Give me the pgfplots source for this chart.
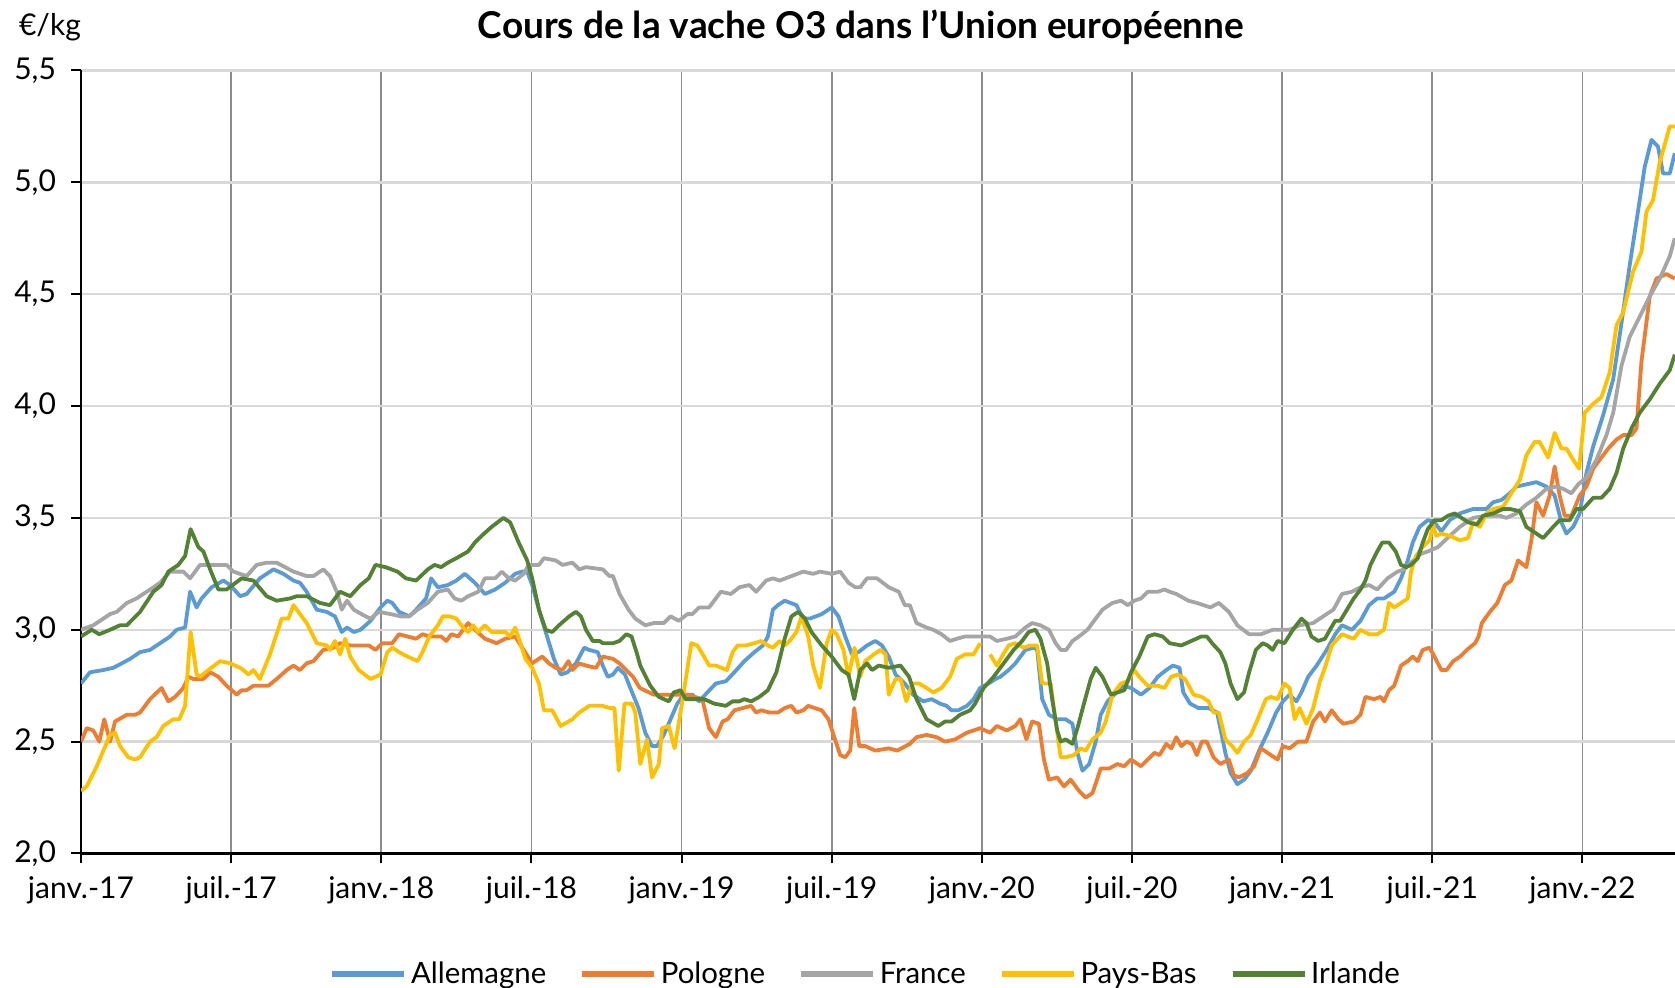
\documentclass[border=0pt]{standalone}
\usepackage{pgfplots}
\pgfplotsset{compat=1.18}
\usepackage{fontspec}
\setmainfont{Lato}
\definecolor{cAll}{HTML}{5B9BD5}
\definecolor{cPol}{HTML}{ED7D31}
\definecolor{cFra}{HTML}{A5A5A5}
\definecolor{cPB}{HTML}{FFC000}
\definecolor{cIrl}{HTML}{548235}
\definecolor{hgrid}{HTML}{D9D9D9}
\definecolor{vgrid}{HTML}{8C8C8C}
\begin{document}
\begin{tikzpicture}
\path[use as bounding box] (-40.5pt,-67.25pt) rectangle (797pt,426.75pt);
\begin{axis}[
  at={(0pt,0pt)}, anchor=south west,
  scale only axis, width=797pt, height=391.5pt,
  xmin=0, xmax=63.7, ymin=2, ymax=5.5,
  xtick={0,6,12,18,24,30,36,42,48,54,60},
  xticklabels={janv.-17,juil.-17,janv.-18,juil.-18,janv.-19,juil.-19,janv.-20,juil.-20,janv.-21,juil.-21,janv.-22},
  ytick={2,2.5,3,3.5,4,4.5,5,5.5},
  /pgf/number format/use comma,
  /pgf/number format/fixed,
  /pgf/number format/fixed zerofill,
  /pgf/number format/precision=1,
  /pgf/number format/assume math mode=true,
  yticklabel style={xshift=-4pt},
  xticklabel style={yshift=-3pt},
  tick label style={font=\fontsize{15}{18}\selectfont},
  axis lines*=left,
  axis line style={black, line width=1.2pt},
  tick align=outside, major tick length=5pt,
  tick style={black, line width=1pt},
  xmajorgrids, ymajorgrids,
  major x grid style={vgrid, line width=0.8pt},
  major y grid style={hgrid, line width=1.2pt},
  unbounded coords=jump,
  clip=true,
  legend columns=5,
  legend style={at={(0.493,-0.154)}, anchor=center, draw=none, fill=none,
    font=\fontsize{14.7}{17}\selectfont,
    /tikz/every even column/.append style={column sep=14.7pt}},
  legend image code/.code={\draw[#1, line width=2.6pt] (0pt,0pt) -- (36pt,0pt);},
  every axis plot/.append style={line width=1.9pt, line join=round, no markers},
]
\addplot[cAll] coordinates {
(0,2.76)(0.36,2.81)(0.89,2.82)(1.29,2.83)(1.63,2.85)(1.96,2.87)(2.36,2.90)(2.76,2.91)(3.16,2.94)(3.56,2.97)(3.82,3.00)(4.16,3.01)(4.36,3.17)(4.62,3.10)(4.82,3.14)(5.22,3.19)(5.69,3.22)(5.96,3.20)(6.36,3.15)(6.62,3.16)(7.15,3.23)(7.69,3.27)(8.09,3.25)(8.49,3.22)(8.75,3.21)(9.02,3.17)(9.42,3.09)(9.82,3.08)(10.15,3.06)(10.42,2.99)
(10.63,3.01)(10.9,2.99)(11.17,3.00)(11.57,3.04)(11.97,3.10)(12.24,3.13)(12.44,3.12)(12.71,3.08)(13.12,3.06)(13.39,3.09)(13.79,3.14)(13.99,3.23)(14.26,3.19)(14.66,3.20)(15.0,3.22)(15.34,3.25)(15.74,3.21)(16.14,3.16)(16.55,3.18)(16.95,3.21)(17.35,3.25)(17.62,3.26)(17.83,3.26)(18.03,3.20)(18.30,3.09)(18.57,2.99)(18.9,2.87)(19.17,2.80)(19.44,2.81)(19.78,2.85)(20.11,2.92)(20.31,2.91)(20.65,2.90)(20.85,2.84)(21.05,2.79)(21.26,2.80)(21.46,2.83)
(21.74,2.80)(21.95,2.74)(22.28,2.65)(22.55,2.54)(22.82,2.48)(23.02,2.48)(23.29,2.53)(23.56,2.60)(23.83,2.67)(24.09,2.71)(24.43,2.71)(24.70,2.68)(25.03,2.72)(25.37,2.76)(25.77,2.77)(26.11,2.81)(26.51,2.86)(26.91,2.90)(27.25,2.93)(27.45,2.97)(27.65,3.09)(27.85,3.11)(28.12,3.13)(28.59,3.11)(28.86,3.05)(29.13,3.05)(29.6,3.07)(30.0,3.10)(30.27,3.06)(30.54,2.97)(30.81,2.89)(31.07,2.90)(31.41,2.93)(31.74,2.95)(32.01,2.93)(32.28,2.88)(32.55,2.80)
(32.92,2.76)(33.25,2.71)(33.66,2.68)(33.99,2.69)(34.33,2.67)(34.59,2.66)(34.79,2.64)(35.06,2.64)(35.4,2.66)(35.67,2.69)(35.93,2.74)(36.27,2.76)(36.54,2.78)(36.74,2.79)(37.07,2.82)(37.34,2.85)(37.74,2.91)(38.08,2.92)(38.21,2.91)(38.41,2.69)(38.68,2.62)(39.01,2.60)(39.35,2.60)(39.62,2.58)(39.82,2.45)(40.02,2.37)(40.29,2.40)(40.55,2.50)(40.75,2.62)(41.02,2.68)(41.29,2.71)(41.62,2.75)(41.96,2.74)(42.36,2.71)(42.70,2.74)(43.03,2.79)(43.37,2.82)(43.63,2.84)(43.9,2.83)
(44.05,2.72)(44.32,2.67)(44.66,2.65)(45.06,2.65)(45.40,2.63)(45.53,2.56)(45.73,2.45)(45.94,2.36)(46.21,2.31)(46.48,2.33)(46.75,2.37)(47.08,2.46)(47.42,2.54)(47.76,2.63)(48.03,2.68)(48.3,2.71)(48.57,2.68)(48.77,2.72)(49.04,2.79)(49.38,2.84)(49.78,2.91)(50.12,2.98)(50.39,3.02)(50.79,3.00)(51.13,3.04)(51.47,3.11)(51.80,3.14)(52.07,3.14)(52.48,3.17)(52.75,3.23)(53.02,3.31)(53.22,3.39)(53.49,3.46)(53.82,3.49)(54.09,3.48)(54.36,3.44)
(54.7,3.49)(55.1,3.52)(55.63,3.54)(55.9,3.54)(56.16,3.54)(56.43,3.57)(56.76,3.58)(57.10,3.61)(57.36,3.64)(57.76,3.65)(58.16,3.66)(58.56,3.64)(58.89,3.60)(59.16,3.48)(59.36,3.43)(59.63,3.46)(59.89,3.52)(60.16,3.70)(60.43,3.82)(60.83,3.96)(61.23,4.12)(61.56,4.37)(61.89,4.63)(62.22,4.87)(62.49,5.07)(62.76,5.19)(63.02,5.16)(63.22,5.04)(63.49,5.04)(63.69,5.13)
};
\addlegendentry{Allemagne}
\addplot[cPol] coordinates {
(0,2.50)(0.23,2.56)(0.49,2.55)(0.73,2.50)(0.93,2.60)(1.16,2.50)(1.36,2.59)(1.83,2.62)(2.16,2.62)(2.36,2.63)(2.76,2.69)(3.22,2.74)(3.49,2.68)(3.76,2.70)(4.09,2.74)(4.29,2.79)(4.49,2.78)(4.89,2.78)(5.16,2.81)(5.49,2.79)(5.82,2.75)(6.22,2.71)(6.42,2.73)(6.62,2.73)(6.89,2.75)(7.49,2.75)(7.82,2.78)(8.22,2.82)(8.49,2.84)(8.75,2.82)(9.02,2.85)(9.29,2.86)(9.68,2.91)(10.09,2.92)(10.35,2.94)
(10.76,2.93)(11.5,2.93)(11.77,2.91)(12.04,2.94)(12.44,2.94)(12.71,2.98)(13.05,2.97)(13.39,2.96)(13.65,2.98)(13.92,2.97)(14.39,2.97)(14.6,2.95)(14.8,2.98)(15.07,2.97)(15.47,3.03)(15.74,3.00)(16.14,2.96)(16.61,2.94)(16.95,2.96)(17.35,2.97)(17.69,2.91)(18.03,2.85)(18.43,2.88)(18.7,2.85)(18.97,2.83)(19.24,2.82)(19.48,2.86)(19.64,2.82)(19.91,2.85)(20.18,2.84)(20.58,2.83)(20.85,2.88)(21.26,2.87)(21.52,2.85)(21.79,2.82)(22.06,2.79)(22.33,2.74)
(22.89,2.71)(23.29,2.71)(23.56,2.71)(23.89,2.71)(24.23,2.71)(24.83,2.69)(25.10,2.56)(25.37,2.52)(25.64,2.59)(25.84,2.60)(26.11,2.64)(26.44,2.65)(26.78,2.66)(26.98,2.63)(27.18,2.64)(27.52,2.63)(27.85,2.63)(28.12,2.65)(28.39,2.66)(28.59,2.63)(28.86,2.64)(29.06,2.66)(29.33,2.65)(29.6,2.64)(29.87,2.60)(30.13,2.51)(30.34,2.44)(30.54,2.43)(30.74,2.46)(30.9,2.65)(31.10,2.48)(31.34,2.48)(31.74,2.46)(32.28,2.47)(32.62,2.46)
(33.12,2.49)(33.39,2.52)(33.79,2.53)(34.19,2.52)(34.53,2.50)(34.93,2.51)(35.4,2.54)(35.93,2.56)(36.33,2.54)(36.6,2.57)(37.0,2.55)(37.34,2.57)(37.54,2.60)(37.78,2.51)(38.01,2.59)(38.28,2.58)(38.48,2.42)(38.68,2.33)(39.01,2.34)(39.28,2.30)(39.55,2.33)(39.88,2.28)(40.15,2.25)(40.42,2.27)(40.75,2.38)(41.09,2.38)(41.42,2.40)(41.69,2.39)(41.96,2.42)(42.36,2.39)(42.63,2.42)(42.9,2.45)(43.1,2.44)(43.37,2.49)(43.57,2.47)(43.77,2.52)(43.97,2.48)
(44.18,2.50)(44.39,2.49)(44.59,2.44)(44.79,2.50)(44.99,2.50)(45.26,2.43)(45.53,2.40)(45.87,2.42)(46.07,2.35)(46.27,2.34)(46.61,2.36)(46.88,2.39)(47.15,2.47)(47.55,2.44)(47.82,2.42)(48.03,2.48)(48.30,2.47)(48.63,2.50)(48.97,2.50)(49.24,2.59)(49.51,2.63)(49.71,2.59)(49.98,2.64)(50.25,2.60)(50.45,2.58)(50.86,2.59)(51.13,2.62)(51.33,2.70)(51.67,2.69)(51.94,2.70)(52.07,2.68)(52.27,2.73)(52.48,2.75)(52.75,2.84)(53.02,2.86)(53.22,2.88)(53.42,2.86)(53.62,2.91)(53.89,2.92)(54.09,2.88)(54.36,2.82)(54.57,2.82)(54.84,2.86)(55.11,2.88)(55.38,2.91)(55.71,2.94)(55.85,2.97)(55.98,3.03)(56.3,3.08)(56.6,3.12)(56.9,3.20)
(57.16,3.22)(57.43,3.31)(57.76,3.28)(57.96,3.40)(58.16,3.57)(58.43,3.51)(58.69,3.60)(58.89,3.73)(59.09,3.60)(59.29,3.51)(59.56,3.51)(59.89,3.60)(60.16,3.64)(60.43,3.72)(60.69,3.76)(61.03,3.81)(61.36,3.85)(61.63,3.87)(61.96,3.87)(62.16,3.90)(62.36,4.20)(62.69,4.49)(62.96,4.57)(63.36,4.59)(63.69,4.57)
};
\addlegendentry{Pologne}
\addplot[cFra] coordinates {
(0,3.00)(0.24,3.01)(0.49,3.02)(0.76,3.04)(1.16,3.07)(1.43,3.08)(1.83,3.12)(2.22,3.14)(2.76,3.18)(3.16,3.21)(3.56,3.26)(4.09,3.26)(4.36,3.23)(4.76,3.29)(5.29,3.29)(5.82,3.29)(6.09,3.26)(6.62,3.24)(7.02,3.29)(7.42,3.30)(7.82,3.30)(8.49,3.26)(9.02,3.24)(9.29,3.24)(9.68,3.27)(9.95,3.24)(10.22,3.17)(10.42,3.09)(10.63,3.13)(10.9,3.09)(11.37,3.06)(11.57,3.05)(11.9,3.08)(12.38,3.07)(12.78,3.06)(13.12,3.06)(13.45,3.09)(13.86,3.12)(14.26,3.17)(14.66,3.18)(14.93,3.14)(15.2,3.13)(15.47,3.15)(15.87,3.17)(16.14,3.23)(16.55,3.23)(16.82,3.26)(17.09,3.23)(17.35,3.22)(17.69,3.25)(17.89,3.29)(18.3,3.29)(18.5,3.32)(18.97,3.31)(19.24,3.29)(19.64,3.30)(19.91,3.27)(20.18,3.28)(20.85,3.27)(21.12,3.24)(21.26,3.24)(21.52,3.16)
(21.88,3.09)(22.15,3.05)(22.55,3.02)(22.89,3.03)(23.29,3.03)(23.56,3.06)(23.89,3.04)(24.23,3.07)(24.43,3.07)(24.70,3.10)(25.1,3.10)(25.57,3.17)(25.97,3.16)(26.31,3.19)(26.71,3.20)(26.98,3.17)(27.38,3.22)(27.65,3.23)(27.92,3.22)(28.39,3.24)(28.86,3.26)(29.26,3.25)(29.53,3.26)(30.0,3.25)(30.34,3.26)(30.67,3.21)(30.94,3.19)(31.14,3.19)(31.41,3.23)(31.81,3.23)(32.28,3.19)(32.68,3.17)
(32.92,3.11)(33.12,3.11)(33.39,3.03)(33.79,3.01)(34.06,3.00)(34.39,2.98)(34.73,2.95)(35.0,2.96)(35.33,2.97)(35.67,2.97)(35.93,2.97)(36.33,2.97)(36.6,2.95)(37.0,2.96)(37.34,2.97)(37.74,3.01)(38.01,3.03)(38.34,3.02)(38.68,3.00)(38.95,2.94)(39.15,2.91)(39.37,2.91)(39.62,2.95)(39.88,2.97)(40.22,3.00)(40.55,3.05)(40.82,3.09)(41.22,3.12)(41.56,3.13)(41.83,3.11)(42.09,3.13)(42.36,3.14)(42.63,3.17)(43.03,3.17)(43.3,3.18)(43.5,3.17)(43.77,3.16)
(44.25,3.13)(44.59,3.12)(45.13,3.10)(45.47,3.12)(45.87,3.08)(46.21,3.02)(46.68,2.98)(47.15,2.98)(47.62,3.00)(48.3,3.00)(48.70,3.02)(49.24,3.03)(49.64,3.06)(50.05,3.09)(50.39,3.16)(50.79,3.17)(51.13,3.19)(51.47,3.20)(51.80,3.18)(52.21,3.23)(52.61,3.26)(52.88,3.27)(53.15,3.30)(53.55,3.34)(53.82,3.35)(54.23,3.37)
(54.7,3.42)(55.1,3.46)(55.63,3.50)(56.16,3.51)(56.7,3.51)(56.96,3.50)(57.36,3.52)(57.76,3.56)(58.16,3.59)(58.56,3.63)(58.96,3.64)(59.23,3.63)(59.56,3.61)(59.83,3.65)(60.16,3.68)(60.56,3.76)(60.96,3.87)(61.23,3.97)(61.56,4.18)(61.89,4.31)(62.29,4.40)(62.69,4.49)(63.09,4.57)(63.49,4.67)(63.69,4.75)
};
\addlegendentry{France}
\addplot[cPB] coordinates {
(0,2.28)(0.23,2.30)(0.63,2.39)(1.16,2.53)(1.36,2.54)(1.56,2.48)(1.89,2.43)(2.16,2.42)(2.36,2.43)(2.76,2.50)(3.02,2.52)(3.29,2.57)(3.69,2.60)(3.93,2.60)(4.16,2.66)(4.38,2.99)(4.62,2.80)(4.76,2.79)(5.09,2.82)(5.56,2.86)(5.96,2.85)(6.36,2.83)(6.49,2.82)(6.69,2.80)(6.89,2.82)(7.15,2.78)(7.55,2.89)(8.02,3.05)(8.29,3.05)(8.49,3.11)(9.02,3.03)(9.42,2.94)(9.82,2.93)(9.95,2.91)(10.15,2.95)(10.35,2.89)(10.56,2.96)(10.76,2.88)(11.1,2.82)(11.57,2.78)(11.97,2.80)(12.24,2.90)(12.44,2.92)(12.71,2.90)(13.05,2.88)(13.45,2.86)(13.65,2.90)(13.92,2.97)(14.26,3.02)(14.46,3.06)(14.73,3.06)(15.0,3.05)(15.27,3.01)(15.47,2.99)(15.67,3.02)(15.87,2.99)(16.14,3.02)(16.41,2.99)(16.95,2.99)(17.15,2.97)(17.35,3.01)(17.56,2.94)(17.76,2.87)(18.03,2.83)(18.30,2.76)(18.5,2.64)(18.83,2.64)(19.17,2.57)(19.64,2.60)(19.91,2.63)(20.31,2.66)(20.85,2.66)(21.12,2.65)(21.32,2.65)(21.49,2.37)(21.72,2.67)(22.01,2.67)(22.15,2.63)(22.35,2.40)(22.62,2.51)(22.82,2.34)(23.09,2.40)(23.22,2.56)(23.49,2.57)(23.72,2.47)(24.03,2.68)(24.39,2.94)(24.63,2.93)(24.90,2.88)(25.10,2.84)(25.37,2.84)(25.81,2.82)(26.04,2.90)(26.24,2.93)(26.58,2.93)(26.91,2.94)(27.18,2.95)(27.45,2.93)(27.65,2.92)(27.92,2.95)(28.12,2.93)(28.32,2.95)(28.59,2.99)(28.79,3.06)(29.06,2.97)(29.26,2.84)(29.53,2.74)(29.8,2.94)(30.0,3.00)(30.2,2.98)(30.47,2.91)(30.67,2.79)(30.91,2.92)(31.14,2.79)(31.34,2.86)(31.68,2.89)(31.95,2.91)(32.15,2.89)(32.28,2.71)(32.55,2.78)(32.75,2.78)(32.98,2.68)(33.22,2.76)(33.49,2.76)(33.79,2.74)(34.06,2.72)(34.39,2.74)(34.73,2.79)(35.0,2.87)(35.33,2.89)(35.67,2.89)(35.93,2.94)
(36.1,nan)
(36.33,2.89)(36.6,2.84)(36.8,2.88)(37.07,2.93)(37.34,2.94)(37.67,2.92)(37.94,2.93)(38.21,2.93)(38.41,2.76)(38.75,2.76)(38.95,2.59)(39.15,2.43)(39.35,2.43)(39.68,2.44)(39.95,2.47)(40.15,2.46)(40.42,2.51)(40.75,2.54)(40.95,2.59)(41.22,2.71)(41.56,2.76)(41.83,2.77)(42.09,2.82)(42.29,2.79)(42.63,2.75)(43.03,2.75)(43.30,2.74)(43.57,2.79)(43.83,2.80)(44.12,2.78)(44.46,2.71)(44.79,2.70)(45.06,2.68)(45.26,2.63)(45.47,2.63)(45.73,2.51)(46.0,2.48)(46.21,2.45)(46.48,2.50)(46.75,2.53)(47.02,2.60)(47.35,2.69)(47.55,2.70)(47.82,2.69)(48.09,2.76)(48.3,2.74)(48.5,2.60)(48.70,2.65)(48.97,2.58)(49.24,2.65)(49.51,2.77)(49.71,2.83)(49.98,2.93)(50.39,2.98)(50.86,2.96)(51.13,3.00)(51.47,2.98)(51.80,2.98)(52.07,3.00)(52.27,3.12)(52.48,3.10)(52.75,3.12)(53.02,3.14)(53.15,3.26)(53.35,3.33)(53.62,3.37)(53.89,3.40)(54.03,3.47)(54.16,3.42)(54.36,3.43)
(54.7,3.42)(55.1,3.40)(55.43,3.41)(55.63,3.48)(55.9,3.46)(56.16,3.52)(56.43,3.54)(56.83,3.55)(57.16,3.61)(57.5,3.67)(57.76,3.78)(58.09,3.84)(58.29,3.84)(58.63,3.77)(58.89,3.88)(59.16,3.81)(59.36,3.81)(59.63,3.76)(59.87,3.72)(60.09,3.97)(60.43,4.01)(60.76,4.04)(61.09,4.15)(61.36,4.36)(61.63,4.42)(62.02,4.60)(62.36,4.69)(62.56,4.87)(62.82,4.92)(63.09,5.09)(63.49,5.25)(63.69,5.25)
};
\addlegendentry{Pays-Bas}
\addplot[cIrl] coordinates {
(0,2.97)(0.43,3.00)(0.73,2.98)(1.16,3.00)(1.56,3.02)(1.83,3.02)(2.36,3.08)(2.89,3.17)(3.22,3.20)(3.49,3.26)(3.89,3.29)(4.16,3.33)(4.38,3.45)(4.69,3.37)(4.89,3.35)(5.16,3.27)(5.49,3.18)(5.82,3.18)(6.42,3.23)(6.89,3.22)(7.42,3.15)(7.82,3.13)(8.35,3.14)(8.62,3.15)(9.02,3.15)(9.55,3.12)(9.95,3.11)(10.35,3.17)(10.76,3.15)(11.17,3.20)(11.50,3.23)(11.77,3.29)(12.17,3.28)(12.65,3.26)(12.98,3.23)(13.39,3.22)(13.86,3.27)(14.13,3.29)(14.39,3.28)(14.66,3.30)(15.0,3.32)(15.47,3.35)(15.74,3.39)(16.01,3.42)(16.41,3.46)(16.88,3.50)(17.15,3.48)(17.49,3.39)(17.83,3.31)(18.03,3.23)(18.30,3.09)(18.57,3.00)(18.83,2.99)(19.10,3.02)(19.51,3.06)(19.78,3.08)(19.98,3.06)(20.18,3.00)(20.45,2.95)(20.72,2.95)(20.85,2.94)(21.26,2.94)(21.52,2.95)(21.79,2.98)(22.0,2.97)(22.2,2.90)(22.35,2.84)(22.75,2.75)(23.09,2.70)(23.49,2.68)(23.69,2.72)(23.96,2.73)(24.16,2.69)(24.9,2.69)(25.3,2.67)(25.77,2.66)(26.04,2.68)(26.31,2.68)(26.51,2.69)(26.78,2.68)(27.11,2.70)(27.45,2.73)(27.79,2.81)(28.12,2.96)(28.39,3.06)(28.66,3.08)(28.93,3.05)(29.19,2.99)(29.6,2.93)(30.0,2.88)(30.40,2.82)(30.67,2.80)(30.9,2.69)(31.14,2.82)(31.41,2.85)(31.61,2.82)(31.88,2.84)(32.28,2.83)(32.75,2.84)(33.09,2.79)(33.39,2.69)(33.79,2.60)(34.26,2.57)(34.53,2.59)(34.79,2.59)(35.13,2.62)(35.53,2.64)(35.73,2.67)(36.07,2.74)(36.47,2.79)(36.87,2.85)(37.27,2.91)(37.61,2.95)(37.87,2.99)(38.14,3.00)(38.34,2.96)(38.61,2.85)(38.81,2.69)(39.01,2.55)(39.15,2.50)(39.35,2.51)(39.62,2.49)(39.82,2.56)(40.08,2.67)(40.35,2.78)(40.55,2.83)(40.82,2.79)(41.16,2.71)(41.42,2.72)(41.69,2.73)(41.96,2.81)(42.29,2.88)(42.63,2.97)(42.9,2.98)(43.23,2.97)(43.5,2.94)(43.97,2.93)(44.37,2.95)(44.77,2.97)(44.99,2.97)(45.2,2.94)(45.53,2.90)(45.73,2.85)(45.94,2.76)(46.21,2.69)(46.48,2.72)(46.68,2.81)(46.95,2.91)(47.22,2.94)(47.42,2.93)(47.62,2.91)(47.82,2.95)(48.09,2.94)(48.43,3.00)(48.77,3.05)(48.97,3.03)(49.17,2.97)(49.44,2.95)(49.71,2.96)(49.91,3.00)(50.12,3.04)(50.32,3.04)(50.59,3.09)(50.86,3.14)(51.13,3.18)(51.33,3.22)(51.53,3.29)(51.80,3.35)(52.0,3.39)(52.27,3.39)(52.54,3.35)(52.75,3.29)(52.95,3.28)(53.15,3.29)(53.42,3.32)(53.62,3.39)(53.82,3.45)(54.09,3.49)(54.36,3.49)(54.63,3.51)(54.90,3.52)(55.17,3.50)(55.44,3.48)(55.78,3.47)(56.03,3.51)(56.43,3.52)(56.83,3.54)(57.1,3.54)(57.5,3.53)(57.76,3.46)(58.16,3.43)(58.43,3.41)(58.83,3.46)(59.09,3.49)(59.49,3.49)(59.76,3.54)(60.03,3.54)(60.43,3.59)(60.76,3.59)(61.09,3.63)(61.36,3.70)(61.63,3.81)(61.96,3.90)(62.29,3.97)(62.69,4.03)(63.09,4.10)(63.49,4.16)(63.69,4.23)
};
\addlegendentry{Irlande}
\end{axis}
\node[font=\bfseries\fontsize{18.5}{22}\selectfont] at (390pt,413.25pt) {Cours de la vache O3 dans l'Union européenne};
\node[font=\fontsize{15}{18}\selectfont] at (-15.5pt,413pt) {€/kg};
\end{tikzpicture}
\end{document}
